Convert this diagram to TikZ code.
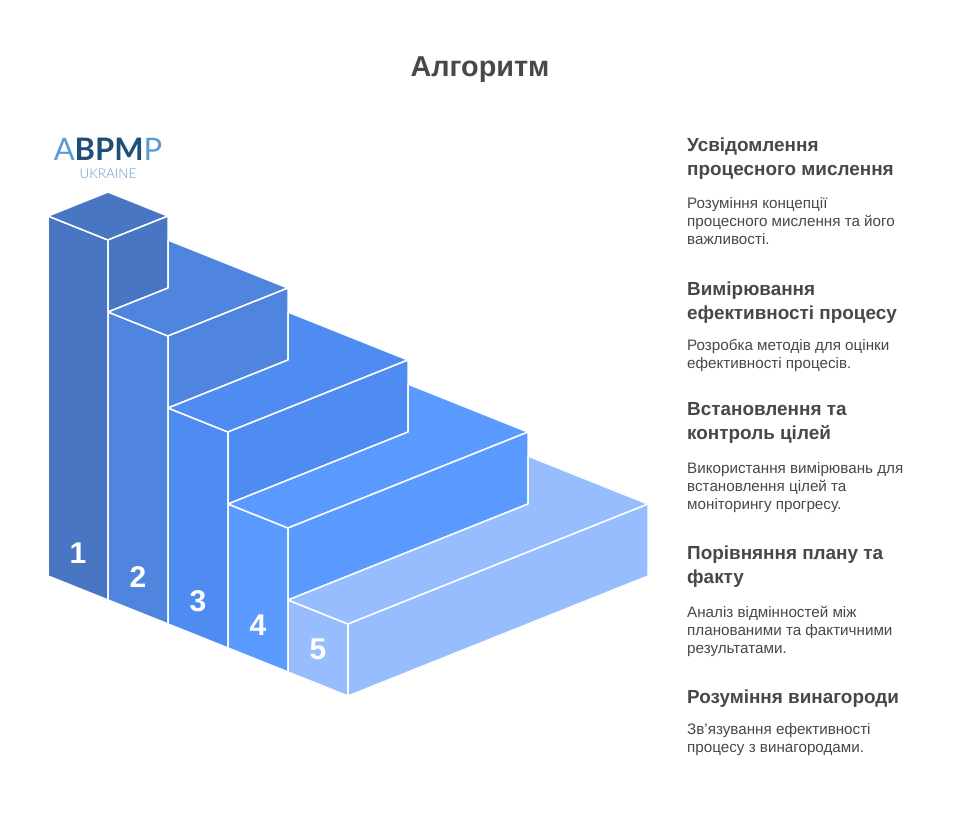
\documentclass[tikz,border=0pt]{standalone}
\usepackage{fontspec}
\setmainfont{Liberation Sans}
\newfontfamily\logofont{Lato}
\newfontfamily\logothin{Lato Light}
\newfontfamily\logobold{Lato}[BoldFont={Lato Bold}]
\definecolor{inkc}{HTML}{484848}
\definecolor{ca}{HTML}{4876C2}
\definecolor{cb}{HTML}{5085DF}
\definecolor{cc}{HTML}{4F8CF2}
\definecolor{cd}{HTML}{5B9AFF}
\definecolor{ce}{HTML}{97BDFF}
\definecolor{logol}{HTML}{5B9BD5}
\definecolor{logod}{HTML}{1F4E79}
\tikzset{
  facebox/.style={draw=white,line width=1.5pt,line join=round},
  headtext/.style={anchor=north west,inner sep=0pt,align=left,text=inkc,font=\fontsize{18.9}{24}\selectfont\bfseries},
  bodytext/.style={anchor=north west,inner sep=0pt,align=left,text=inkc,font=\fontsize{15.2}{18}\selectfont},
  numtext/.style={inner sep=0pt,text=white,font=\fontsize{30}{30}\selectfont\bfseries}
}
\begin{document}
\begin{tikzpicture}[x=1pt,y=-1pt]
\useasboundingbox (0,0) rectangle (960,824);
\fill[white] (0,0) rectangle (960,824);
% block 1
\draw[facebox,fill=ca] (48,216) -- (108,240) -- (108,600) -- (48,576) -- cycle;
\draw[facebox,fill=ca] (48,216) -- (108,192) -- (168,216) -- (108,240) -- cycle;
\draw[facebox,fill=ca] (108,240) -- (168,216) -- (168,288) -- (108,312) -- cycle;
% block 2
\draw[facebox,fill=cb] (108,312) -- (168,336) -- (168,624) -- (108,600) -- cycle;
\draw[facebox,fill=cb] (108,312) -- (168,288) -- (168,240) -- (288,288) -- (168,336) -- cycle;
\draw[facebox,fill=cb] (168,336) -- (288,288) -- (288,360) -- (168,408) -- cycle;
% block 3
\draw[facebox,fill=cc] (168,408) -- (228,432) -- (228,648) -- (168,624) -- cycle;
\draw[facebox,fill=cc] (168,408) -- (288,360) -- (288,312) -- (408,360) -- (228,432) -- cycle;
\draw[facebox,fill=cc] (228,432) -- (408,360) -- (408,432) -- (228,504) -- cycle;
% block 4
\draw[facebox,fill=cd] (228,504) -- (288,528) -- (288,672) -- (228,648) -- cycle;
\draw[facebox,fill=cd] (228,504) -- (408,432) -- (408,384) -- (528,432) -- (288,528) -- cycle;
\draw[facebox,fill=cd] (288,528) -- (528,432) -- (528,504) -- (288,600) -- cycle;
% block 5
\draw[facebox,fill=ce] (288,600) -- (348,624) -- (348,696) -- (288,672) -- cycle;
\draw[facebox,fill=ce] (288,600) -- (528,504) -- (528,456) -- (648,504) -- (348,624) -- cycle;
\draw[facebox,fill=ce] (348,624) -- (648,504) -- (648,576) -- (348,696) -- cycle;
% numbers
\node[numtext] (n1) at (78,553) {1};
\node[numtext] (n2) at (138,577) {2};
\node[numtext] (n3) at (198,601) {3};
\node[numtext] (n4) at (258,625) {4};
\node[numtext] (n5) at (318,649) {5};
% title
\node[inner sep=0pt,text=inkc,font=\fontsize{28.8}{30}\selectfont\bfseries] (title) at (480,70) {Алгоритм};
% logo
\node[inner sep=0pt,anchor=base,font=\fontsize{31}{31}\selectfont] (logo) at (108,160) {\textcolor{logol}{\logofont A}\textcolor{logod}{\logobold\bfseries BPM}\textcolor{logol}{\logofont P}};
\node[inner sep=0pt,anchor=base,text=logol,font=\logothin\fontsize{13.5}{14}\selectfont] (ukr) at (108,178) {UKRAINE};
% text
\node[headtext] (h1) at (687,138) {Усвідомлення\\процесного мислення};
\node[bodytext] (b1) at (687,197) {Розуміння концепції\\процесного мислення та його\\важливості.};
\node[headtext] (h2) at (687,282) {Вимірювання\\ефективності процесу};
\node[bodytext] (b2) at (687,339) {Розробка методів для оцінки\\ефективності процесів.};
\node[headtext] (h3) at (687,402) {Встановлення та\\контроль цілей};
\node[bodytext] (b3) at (687,462) {Використання вимірювань для\\встановлення цілей та\\моніторингу прогресу.};
\node[headtext] (h4) at (687,546) {Порівняння плану та\\факту};
\node[bodytext] (b4) at (687,606) {Аналіз відмінностей між\\планованими та фактичними\\результатами.};
\node[headtext] (h5) at (687,690) {Розуміння винагороди};
\node[bodytext] (b5) at (687,723) {Зв'язування ефективності\\процесу з винагородами.};
\end{tikzpicture}
\end{document}
